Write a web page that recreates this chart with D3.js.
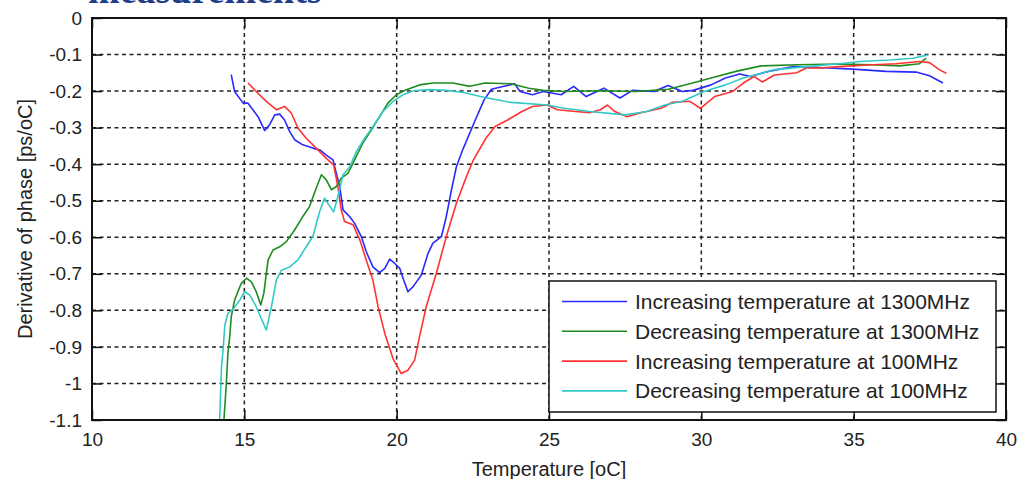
<!DOCTYPE html>
<html>
<head>
<meta charset="utf-8">
<script src="https://cdn.jsdelivr.net/npm/d3@7"></script>
<style>
  body { margin: 0; background: #fff; }
  svg { font-family: "Liberation Sans", Arial, sans-serif; }
</style>
</head>
<body>
<svg id="chart" width="1018" height="479"></svg>
<script>
// values: [temperature oC, derivative ps/oC]
const incr1300 = [[14.57,-0.155],[14.68,-0.201],[14.96,-0.233],[15.12,-0.233],[15.45,-0.27],[15.67,-0.308],[15.83,-0.292],[16.0,-0.265],[16.16,-0.263],[16.32,-0.279],[16.49,-0.311],[16.65,-0.333],[16.92,-0.347],[17.25,-0.356],[17.48,-0.361],[17.69,-0.375],[17.91,-0.388],[18.02,-0.425],[18.13,-0.461],[18.24,-0.525],[18.46,-0.544],[18.62,-0.562],[18.84,-0.598],[19.0,-0.639],[19.22,-0.681],[19.44,-0.697],[19.61,-0.685],[19.77,-0.66],[19.93,-0.671],[20.1,-0.685],[20.23,-0.717],[20.37,-0.749],[20.54,-0.735],[20.81,-0.703],[21.03,-0.644],[21.19,-0.616],[21.47,-0.598],[21.63,-0.543],[21.8,-0.47],[21.96,-0.407],[22.18,-0.358],[22.58,-0.279],[22.87,-0.224],[23.11,-0.195],[23.52,-0.187],[23.87,-0.18],[24.05,-0.201],[24.46,-0.21],[24.81,-0.201],[25.4,-0.21],[25.81,-0.187],[26.22,-0.215],[26.8,-0.192],[27.33,-0.219],[27.74,-0.198],[28.44,-0.201],[28.91,-0.185],[29.38,-0.201],[29.73,-0.198],[30.32,-0.183],[30.79,-0.164],[31.26,-0.153],[31.61,-0.16],[32.2,-0.146],[33.02,-0.133],[34.2,-0.137],[34.97,-0.14],[36.07,-0.146],[37.05,-0.148],[37.49,-0.158],[37.93,-0.178]];
const decr1300 = [[14.33,-1.1],[14.41,-1.0],[14.46,-0.918],[14.52,-0.872],[14.57,-0.818],[14.68,-0.772],[14.9,-0.726],[15.07,-0.712],[15.23,-0.722],[15.39,-0.749],[15.54,-0.785],[15.64,-0.753],[15.78,-0.662],[15.94,-0.635],[16.16,-0.626],[16.38,-0.612],[16.65,-0.58],[16.92,-0.543],[17.14,-0.516],[17.34,-0.47],[17.53,-0.429],[17.69,-0.443],[17.86,-0.47],[18.02,-0.461],[18.18,-0.438],[18.4,-0.425],[18.62,-0.388],[18.89,-0.342],[19.17,-0.306],[19.44,-0.27],[19.71,-0.233],[19.99,-0.21],[20.32,-0.196],[20.75,-0.183],[21.19,-0.178],[21.85,-0.178],[22.4,-0.187],[22.9,-0.178],[23.75,-0.18],[24.34,-0.192],[24.81,-0.198],[25.51,-0.201],[26.69,-0.199],[27.86,-0.201],[28.91,-0.195],[29.62,-0.18],[30.32,-0.164],[31.14,-0.146],[31.96,-0.131],[33.13,-0.128],[34.53,-0.126],[35.63,-0.128],[36.5,-0.131],[37.16,-0.125],[37.38,-0.11]];
const incr100 = [[15.12,-0.178],[15.39,-0.201],[15.72,-0.228],[16.05,-0.251],[16.32,-0.242],[16.54,-0.26],[16.76,-0.301],[17.03,-0.329],[17.36,-0.356],[17.69,-0.384],[17.93,-0.402],[18.07,-0.461],[18.18,-0.525],[18.29,-0.557],[18.57,-0.566],[18.79,-0.607],[19.0,-0.662],[19.22,-0.717],[19.39,-0.79],[19.61,-0.863],[19.88,-0.932],[20.15,-0.973],[20.37,-0.964],[20.59,-0.936],[20.75,-0.872],[20.97,-0.79],[21.3,-0.699],[21.63,-0.598],[21.96,-0.507],[22.29,-0.434],[22.52,-0.388],[22.93,-0.329],[23.23,-0.297],[23.64,-0.279],[24.11,-0.256],[24.46,-0.242],[24.93,-0.238],[25.28,-0.251],[25.87,-0.256],[26.33,-0.259],[26.69,-0.251],[26.92,-0.238],[27.16,-0.256],[27.57,-0.27],[27.98,-0.26],[28.68,-0.247],[29.04,-0.231],[29.62,-0.228],[29.97,-0.247],[30.44,-0.215],[31.03,-0.201],[31.38,-0.178],[31.73,-0.16],[32.0,-0.175],[32.4,-0.156],[33.13,-0.15],[33.44,-0.137],[33.88,-0.137],[34.53,-0.133],[35.63,-0.128],[36.39,-0.125],[37.16,-0.119],[37.49,-0.122],[37.82,-0.142],[38.04,-0.151]];
const decr100 = [[14.19,-1.1],[14.25,-0.955],[14.31,-0.9],[14.36,-0.84],[14.46,-0.808],[14.63,-0.797],[14.85,-0.772],[15.01,-0.749],[15.18,-0.758],[15.39,-0.79],[15.72,-0.854],[15.89,-0.79],[16.05,-0.717],[16.22,-0.69],[16.49,-0.681],[16.76,-0.662],[17.03,-0.626],[17.25,-0.598],[17.47,-0.53],[17.63,-0.493],[17.78,-0.512],[17.93,-0.53],[18.07,-0.489],[18.24,-0.429],[18.46,-0.407],[18.68,-0.365],[18.95,-0.329],[19.22,-0.297],[19.55,-0.256],[19.88,-0.228],[20.21,-0.21],[20.54,-0.199],[21.08,-0.196],[21.63,-0.198],[22.2,-0.204],[22.85,-0.217],[23.75,-0.231],[24.93,-0.238],[25.51,-0.247],[26.33,-0.256],[27.5,-0.265],[28.21,-0.256],[28.8,-0.238],[29.38,-0.228],[30.09,-0.201],[30.79,-0.183],[31.38,-0.164],[31.96,-0.152],[32.35,-0.142],[33.44,-0.133],[34.53,-0.125],[35.19,-0.119],[36.17,-0.115],[36.94,-0.11],[37.43,-0.101]];

const seriesNames = ["Increasing temperature at 1300MHz", "Decreasing temperature at 1300MHz",
                     "Increasing temperature at 100MHz", "Decreasing temperature at 100MHz"];
const seriesColors = ["#2a2aff", "#1f8c1f", "#ff3333", "#33c9c9"];
const xTicks = [10, 15, 20, 25, 30, 35, 40];
const yTicks = [0, -0.1, -0.2, -0.3, -0.4, -0.5, -0.6, -0.7, -0.8, -0.9, -1, -1.1];

const series = [incr1300, decr1300, incr100, decr100];

const margin = {left: 92, top: 18, right: 12, bottom: 59};
const svg = d3.select("#chart");
const width = 1018 - margin.left - margin.right,
      height = 479 - margin.top - margin.bottom;

// cut-off heading from the page above the figure
svg.append("text")
    .attr("x", 88).attr("y", 3)
    .attr("font-family", "Liberation Serif, serif")
    .attr("font-weight", "bold")
    .attr("font-size", 38)
    .attr("fill", "#1f3c88")
    .text("measurements");

const g = svg.append("g").attr("transform", "translate(" + margin.left + "," + margin.top + ")");

const x = d3.scaleLinear().domain([10, 40]).range([0, width]);
const y = d3.scaleLinear().domain([-1.1, 0]).range([height, 0]);
const fmt = (d) => String(+d.toFixed(1));

g.append("defs").append("clipPath").attr("id", "plotclip")
    .append("rect").attr("width", width).attr("height", height);

// dashed grid
const grid = g.append("g").attr("stroke", "#222").attr("stroke-width", 1.5).attr("stroke-dasharray", "4,3.5");
grid.selectAll(".gx").data(xTicks.slice(1, -1)).join("line")
    .attr("x1", d => x(d)).attr("x2", d => x(d))
    .attr("y1", 0).attr("y2", height);
grid.selectAll(".gy").data(yTicks.slice(1, -1)).join("line")
    .attr("x1", 0).attr("x2", width)
    .attr("y1", d => y(d)).attr("y2", d => y(d));

// curves
const line = d3.line().x(d => x(d[0])).y(d => y(d[1]));
g.append("g").attr("clip-path", "url(#plotclip)")
    .selectAll("path").data(series).join("path")
    .attr("d", line)
    .attr("fill", "none")
    .attr("stroke", (d, i) => seriesColors[i])
    .attr("stroke-width", 1.6)
    .attr("stroke-linejoin", "round");

// axes, ticks pointing inward on all four sides
const axisStyle = (sel) => {
    sel.select(".domain").remove();
    sel.selectAll(".tick line").attr("stroke", "#111").attr("stroke-width", 1.5);
    sel.selectAll("text").attr("font-size", 19).attr("fill", "#222")
        .attr("font-family", "Liberation Sans, Arial, sans-serif");
};
g.append("g").attr("transform", "translate(0," + height + ")")
    .call(d3.axisBottom(x).tickValues(xTicks).tickSize(-10).tickPadding(13).tickFormat(fmt))
    .call(axisStyle);
g.append("g")
    .call(d3.axisLeft(y).tickValues(yTicks).tickSize(-10).tickPadding(10).tickFormat(fmt))
    .call(axisStyle);
g.append("g")
    .call(d3.axisTop(x).tickValues(xTicks).tickSize(-10).tickFormat(""))
    .call(axisStyle);
g.append("g").attr("transform", "translate(" + width + ",0)")
    .call(d3.axisRight(y).tickValues(yTicks).tickSize(-10).tickFormat(""))
    .call(axisStyle);

g.append("rect").attr("width", width).attr("height", height)
    .attr("fill", "none").attr("stroke", "#111").attr("stroke-width", 2);

// axis labels
g.append("text")
    .attr("x", width / 2).attr("y", height + 56)
    .attr("text-anchor", "middle").attr("font-size", 20).attr("fill", "#222")
    .text("Temperature [oC]");
g.append("text")
    .attr("transform", "translate(" + (-60) + "," + (height / 2) + ")rotate(-90)")
    .attr("text-anchor", "middle").attr("font-size", 20).attr("fill", "#222")
    .text("Derivative of phase [ps/oC]");

// legend
const legend = g.append("g").attr("transform", "translate(" + (549 - margin.left) + "," + (281 - margin.top) + ")");
legend.append("rect").attr("width", 447).attr("height", 131)
    .attr("fill", "#fff").attr("stroke", "#111").attr("stroke-width", 1.5);
const items = legend.selectAll(".item").data(seriesNames).join("g")
    .attr("transform", (d, i) => "translate(0," + (20.5 + i * 29.8) + ")");
items.append("line").attr("x1", 13).attr("x2", 78)
    .attr("stroke", (d, i) => seriesColors[i]).attr("stroke-width", 1.6);
items.append("text").attr("x", 86).attr("y", 7.5)
    .attr("font-size", 21).attr("fill", "#222")
    .text(d => d);
</script>
</body>
</html>
